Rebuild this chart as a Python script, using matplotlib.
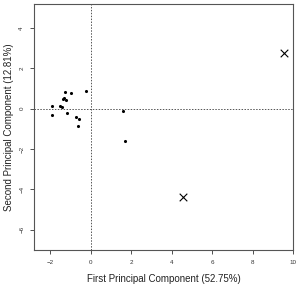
import matplotlib
matplotlib.use("Agg")
import matplotlib.pyplot as plt

plt.rcParams['font.family'] = ['Liberation Sans', 'DejaVu Sans']

pc1 = [-1.90, -1.90, -1.50, -1.43, -1.39, -1.34, -1.25, -1.22, -1.17, -0.96,
       -0.71, -0.59, -0.61, -0.25, 1.58, 1.70]
pc2 = [0.15, -0.30, 0.15, 0.08, 0.48, 0.53, 0.83, 0.45, -0.20, 0.76,
       -0.40, -0.51, -0.87, 0.89, -0.13, -1.58]
out_pc1 = [9.54, 4.55]
out_pc2 = [2.77, -4.37]
xticks = [-2, 0, 2, 4, 6, 8, 10]
yticks = [-6, -4, -2, 0, 2, 4]

fig = plt.figure(figsize=(2.98, 2.84), dpi=100)
ax = fig.add_axes([34/298, 1 - 250/284, (293-34)/298, (250-4)/284])
ax.scatter(pc1, pc2, s=5, c='black', marker='o', linewidths=0, zorder=3)
ax.scatter(out_pc1, out_pc2, s=30, c='black', marker='x', linewidths=0.8, zorder=3)
ax.axhline(0, color='#555555', linestyle=(0, (1.5, 1.5)), linewidth=0.7)
ax.axvline(0, color='#555555', linestyle=(0, (1.5, 1.5)), linewidth=0.7)
ax.set_xlim(-2.8, 10.0)
ax.set_ylim(-7.0, 5.19)
ax.set_xticks(xticks)
ax.set_yticks(yticks)
ax.tick_params(axis='both', labelsize=4.5, length=3, width=0.6, color='#333333', labelcolor='#333333', pad=4)
for lab in ax.get_yticklabels():
    lab.set_rotation(90)
    lab.set_va('center')
for s in ax.spines.values():
    s.set_linewidth(0.8)
    s.set_color('#555555')
ax.set_xlabel('First Principal Component (52.75%)', fontsize=7, color='#222222', labelpad=7)
ax.set_ylabel('Second Principal Component (12.81%)', fontsize=7, color='#222222', labelpad=4)
fig.savefig('out.png', dpi=100)
